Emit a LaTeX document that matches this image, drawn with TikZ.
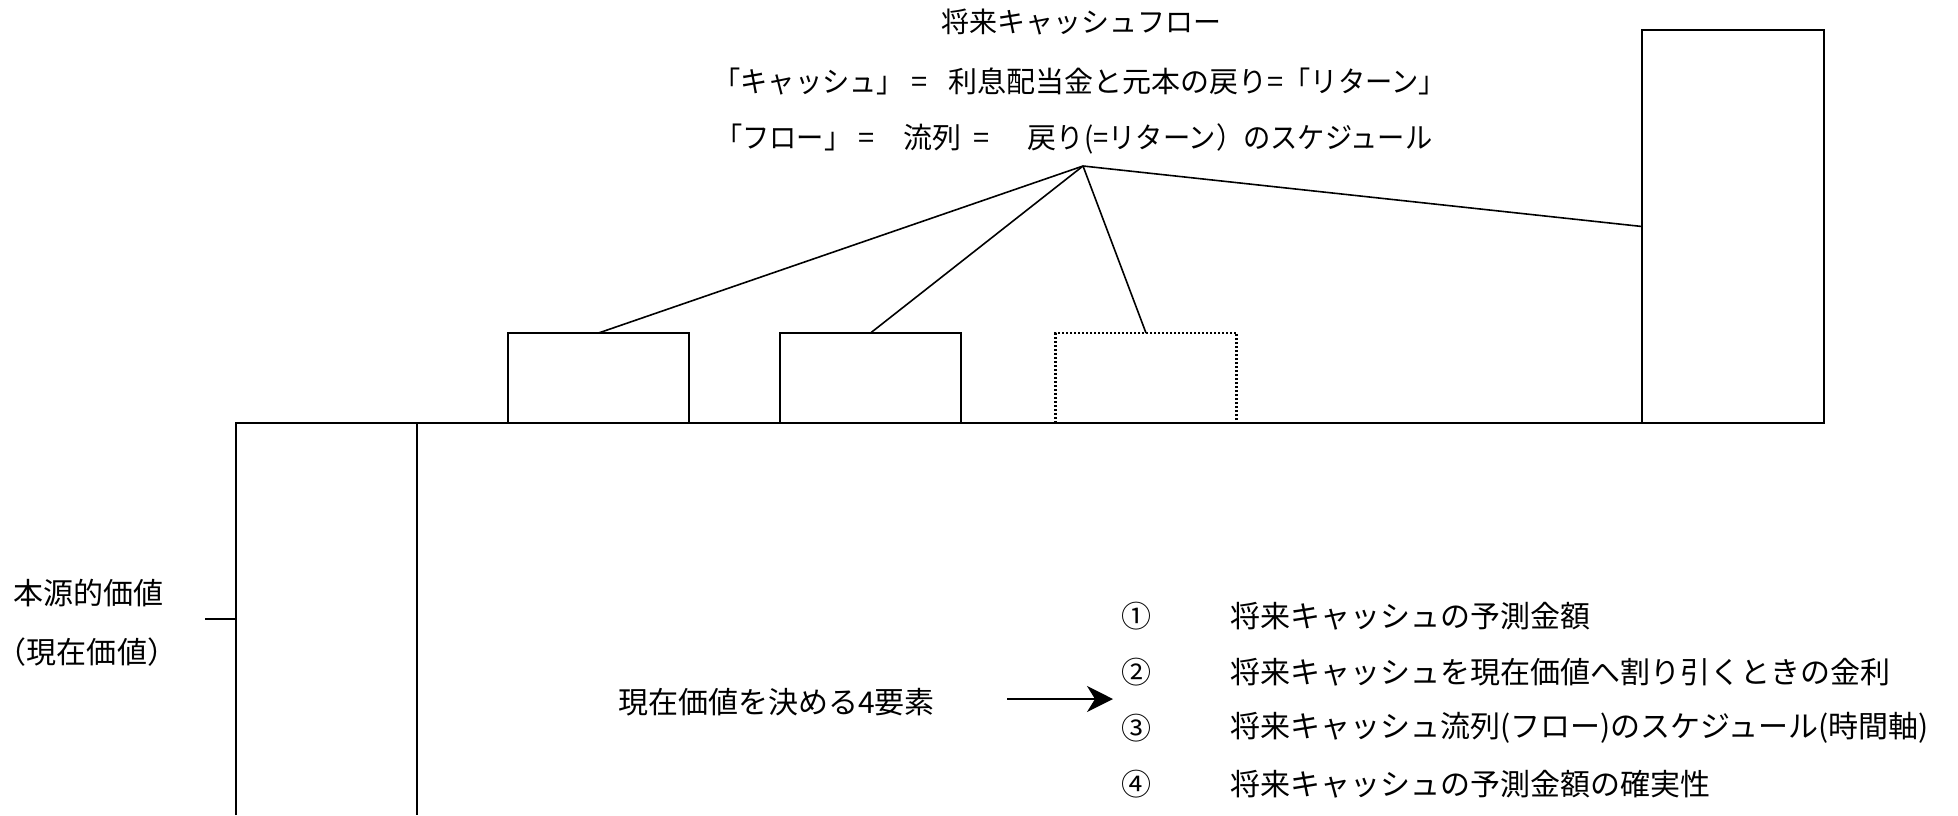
\documentclass[tikz,border=0pt]{standalone}
\usepackage{fontspec}
\newfontfamily\jp{Noto Sans CJK JP}
\newfontfamily\jpk{Noto Sans CJK JP}[FakeStretch=0.94]
\usetikzlibrary{arrows.meta}
\begin{document}
\begin{tikzpicture}[x=1pt,y=-1pt,
  every node/.style={font=\jp\fontsize{28}{34}\selectfont, inner sep=0pt, outer sep=0pt},
  head/.style={anchor=west, font=\jp\fontsize{29}{34}\selectfont},
  lst/.style={anchor=west, font=\jp\fontsize{30}{36}\selectfont},
  cashbox/.style={draw, line width=2pt, minimum width=181pt, minimum height=90pt},
  dotbox/.style={cashbox, dotted, line width=2.2pt},
  conn/.style={line width=1.6pt},
  frame/.style={line width=2pt}]
\useasboundingbox (0,0) rectangle (1958,815);
% top texts
\node (title) at (1081,22) {将来キャッシュフロー};
\node[head] (cash) at (713.4,81) {{\jpk 「キャッシュ」}\makebox[30.6pt]{=}\hspace{13.7pt}利息配当金と元本の戻り={\jpk 「リターン」}};
\node[head] (flow) at (715,139) {{\jpk 「フロー」}\makebox[29.6pt]{=}\hspace{23pt}流列\makebox[39pt]{=}\hspace{27pt}戻{\jpk り(=リターン）のスケジュール}};
\coordinate (apex) at (1083,166);
% boxes
\node[cashbox] (b1) at (598.5,378) {};
\node[cashbox] (b2) at (870.5,378) {};
\node[dotbox] (b3) at (1146,378) {};
\node[draw, line width=2pt, minimum width=182pt, minimum height=393pt] (big) at (1733,226.5) {};
% ground and present value box
\coordinate (pvtl) at (236,423);
\coordinate (pvbl) at (236,815);
\coordinate (pvtr) at (417,423);
\coordinate (pvbr) at (417,815);
\draw[frame] (pvbl) -- (pvtl) -- (big.south west);
\draw[frame] (pvtr) -- (pvbr);
% connectors
\draw[conn] (apex) -- (b1.north);
\draw[conn] (apex) -- (b2.north);
\draw[conn] (apex) -- (b3.north);
\draw[conn] (apex) -- (big.west);
% left label
\node[lst] (hon) at (13,593) {本源的価値};
\node[lst] (gen) at (-3,652) {（現在価値）};
\coordinate (tick) at (205,619);
\draw[conn] (tick) -- (pvtl |- tick);
% four factors
\node[lst] (four) at (618,702) {現在価値を決める4要素};
\coordinate (arrS) at (1007,699);
\coordinate (arrE) at (1113,699);
\draw[conn, -{Stealth[length=26pt,width=26pt,inset=8pt]}] (arrS) -- (arrE);
\node[lst, anchor=center] (n1) at (1136,616) {①};
\node[lst, anchor=center] (n2) at (1136,672) {②};
\node[lst, anchor=center] (n3) at (1136,728) {③};
\node[lst, anchor=center] (n4) at (1136,784) {④};
\node[lst] (t1) at (1230,616) {将来キャッシュの予測金額};
\node[lst] (t2) at (1230,672) {将来キャッシュを現在価値へ割り引くときの金利};
\node[lst] (t3) at (1230,728) {将来キャッシュ流列(フロー)のスケジュール(時間軸)};
\node[lst] (t4) at (1230,784) {将来キャッシュの予測金額の確実性};
\end{tikzpicture}
\end{document}
